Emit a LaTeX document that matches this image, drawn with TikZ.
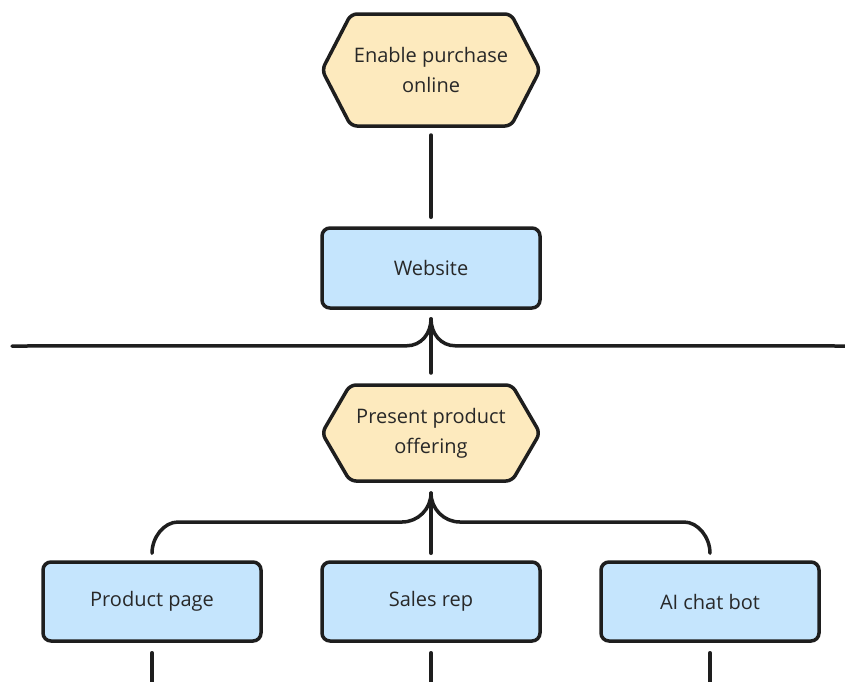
\documentclass[tikz,border=0pt]{standalone}
\usepackage{fontspec}
\setmainfont{Open Sans}
\usetikzlibrary{calc,backgrounds}

\definecolor{ink}{RGB}{30,30,30}
\definecolor{txt}{RGB}{40,40,40}
\definecolor{goalfill}{RGB}{253,234,190}
\definecolor{meansfill}{RGB}{197,229,253}

\tikzset{
  label text/.style={font=\fontsize{20}{30}\selectfont, text=txt, align=center},
  means/.style={label text, rectangle, rounded corners=8pt, draw=ink, fill=meansfill,
    line width=3.5pt, minimum width=218pt, minimum height=80pt, inner sep=0pt},
  goal/.style={label text, rectangle, minimum width=218pt, inner sep=0pt, outer sep=0pt},
  hexline/.style={draw=ink, fill=goalfill, line width=3.5pt, rounded corners=6pt, line join=round},
  link/.style={draw=ink, line width=3.5pt, line cap=round},
}

% hexagonal outline around a goal node: #1 node name, #2 depth of the side points
\newcommand\hexoutline[2]{%
  \path[hexline] (#1.west) -- ($(#1.north west)+(#2,0)$) -- ($(#1.north east)+(-#2,0)$)
    -- (#1.east) -- ($(#1.south east)+(-#2,0)$) -- ($(#1.south west)+(#2,0)$) -- cycle;}

\begin{document}
\begin{tikzpicture}[x=1pt,y=-1pt]
  \useasboundingbox (0,0) rectangle (845,681);
  \clip (0,0) rectangle (845,681);

  % goals and means
  \node[goal, minimum height=112pt] (enable) at (431,70) {Enable purchase\\online};
  \node[means] (website) at (431,268) {Website};
  \node[goal, minimum height=96pt] (present) at (431,433) {Present product\\offering};
  \node[means, minimum height=79pt] (product) at (152,601.5) {Product page};
  \node[means, minimum height=79pt] (sales) at (431,601.5) {Sales rep};
  \node[means, minimum height=79pt] (chatbot) at (710,601.5) {AI chat bot};

  \begin{scope}[on background layer]
    \hexoutline{enable}{29}
    \hexoutline{present}{28}
  \end{scope}

  % goal -> means
  \draw[link] ($(enable.south)+(0,9)$) -- ($(website.north)+(0,-9)$);

  % crossing line with the junction below the website box
  \coordinate (jTop) at ($(website.south)+(0,9)$);
  \coordinate (jL) at (12,346);
  \coordinate (jR) at (850,346);
  \draw[link] (jL) -- ($(jTop)+(-24,27)$) .. controls +(14,0) and +(0,15) .. (jTop)
    .. controls +(0,15) and +(-14,0) .. ($(jTop)+(24,27)$) -- (jR);
  \draw[link] (jTop) -- ($(present.north)+(0,-12)$);

  % branching to the three means
  \coordinate (bTop) at ($(present.south)+(0,12)$);
  \coordinate (bar) at ($(bTop)+(0,29)$);
  \draw[link] (bTop) -- ($(sales.north)+(0,-7)$);
  \draw[link] (bTop) .. controls +(0,16) and +(16,0) .. ($(bar)+(-29,0)$)
    -- ($(product.north |- bar)+(26,0)$) .. controls +(-14,0) and +(0,-16) .. ($(product.north)+(0,-7)$);
  \draw[link] (bTop) .. controls +(0,16) and +(-16,0) .. ($(bar)+(29,0)$)
    -- ($(chatbot.north |- bar)+(-26,0)$) .. controls +(14,0) and +(0,-16) .. ($(chatbot.north)+(0,-7)$);

  % lines continuing below the bottom row
  \coordinate (pEnd) at ($(product.south)+(0,60)$);
  \coordinate (sEnd) at ($(sales.south)+(0,60)$);
  \coordinate (cEnd) at ($(chatbot.south)+(0,60)$);
  \draw[link] ($(product.south)+(0,10)$) -- (pEnd);
  \draw[link] ($(sales.south)+(0,10)$) -- (sEnd);
  \draw[link] ($(chatbot.south)+(0,10)$) -- (cEnd);
\end{tikzpicture}
\end{document}
